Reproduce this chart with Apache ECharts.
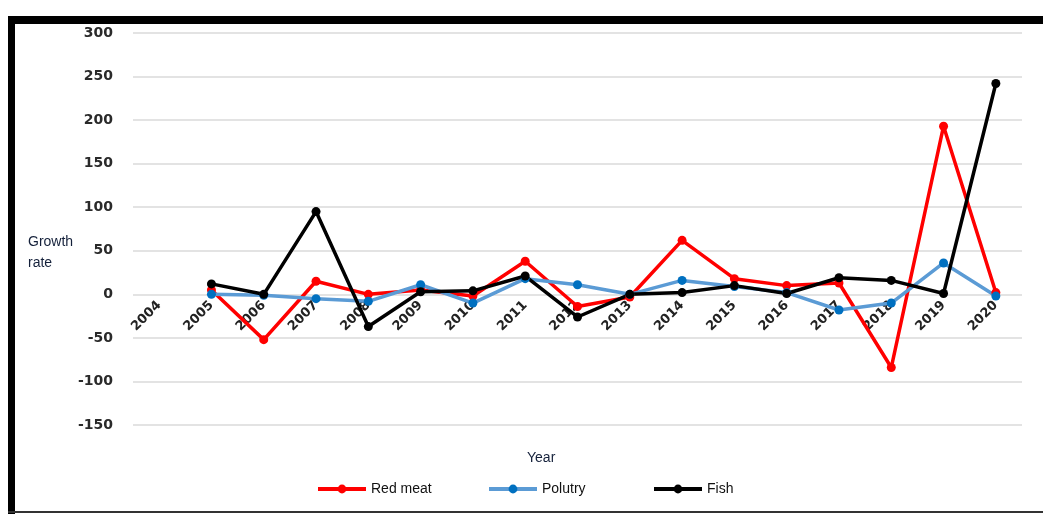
<!DOCTYPE html>
<html>
<head>
<meta charset="utf-8">
<script src="https://cdn.jsdelivr.net/npm/echarts@6/dist/echarts.min.js"></script>
<style>
  html, body { margin: 0; padding: 0; background: #fff; }
  #chart { width: 1043px; height: 514px; }
</style>
</head>
<body>
<div id="chart"></div>
<script>
// Years on the category axis
const years = ['2004','2005','2006','2007','2008','2009','2010','2011','2012',
               '2013','2014','2015','2016','2017','2018','2019','2020'];

// Growth rate (%) by product; 2004 is the base year, so it has no value
const redMeat = [null, 5, -52, 15, 0, 5, -2, 38, -14, -3, 62, 18, 10, 13, -84, 193, 2];
const poultry = [null, 0, -1, -5, -8, 11, -10, 18, 11, 0, 16, 9, 2, -18, -10, 36, -2];
const fish    = [null, 12, 0, 95, -37, 3, 4, 21, -26, 0, 2, 10, 1, 19, 16, 1, 242];

// Value axis ticks
const yMin = -150, yMax = 300, yStep = 50;

const chart = echarts.init(document.getElementById('chart'));

function lineSeries(name, data, lineColor, dotColor) {
  return {
    name: name,
    type: 'line',
    data: data,
    symbol: 'circle',
    symbolSize: 9,
    connectNulls: false,
    z: 5,
    lineStyle: { color: lineColor, width: 3.5 },
    itemStyle: { color: dotColor },
    emphasis: { disabled: true }
  };
}

const legendText = { fontFamily: 'Liberation Sans', fontSize: 14, color: '#111' };
function legendFor(name, left) {
  return {
    data: [name], left: left, top: 482, padding: 0,
    itemWidth: 48, itemHeight: 11, itemGap: 0,
    lineStyle: { width: 4 },
    textStyle: legendText, selectedMode: false
  };
}

// plot area
const gridTop = 33, gridBottom = 89, plotHeight = 514 - gridTop - gridBottom;
// distance from the bottom of the plot up to the zero line, where the year labels hang
const zeroOffset = plotHeight * (0 - yMin) / (yMax - yMin);

chart.setOption({
  animation: false,
  grid: { left: 133, right: 21, top: gridTop, bottom: gridBottom, containLabel: false },
  xAxis: {
    type: 'category',
    data: years,
    boundaryGap: true,
    offset: -zeroOffset,
    axisLine: { show: false, onZero: false },
    axisTick: { show: false },
    splitLine: { show: false },
    axisLabel: {
      rotate: 45, margin: 9, interval: 0,
      fontFamily: 'DejaVu Sans', fontWeight: 'bold', fontSize: 13, color: '#222'
    }
  },
  yAxis: {
    type: 'value',
    min: yMin, max: yMax, interval: yStep,
    axisLine: { show: false },
    axisTick: { show: false },
    splitLine: { lineStyle: { color: '#e3e3e3', width: 2 } },
    axisLabel: {
      margin: 20,
      fontFamily: 'DejaVu Sans', fontWeight: 'bold', fontSize: 14, color: '#2a2a2a'
    }
  },
  legend: [
    legendFor('Red meat', 316),
    legendFor('Polutry', 487),
    legendFor('Fish', 652)
  ],
  series: [
    lineSeries('Red meat', redMeat, '#ff0000', '#ff0000'),
    lineSeries('Polutry', poultry, '#5b9bd5', '#0070c0'),
    lineSeries('Fish', fish, '#000000', '#000000')
  ],
  graphic: [
    // frame round the figure
    { type: 'rect', shape: { x: 8, y: 16, width: 1043, height: 8 }, style: { fill: '#000' } },
    { type: 'rect', shape: { x: 8, y: 16, width: 7, height: 498 }, style: { fill: '#000' } },
    { type: 'rect', shape: { x: 8, y: 511, width: 1043, height: 2 }, style: { fill: '#333' } },
    // axis titles
    {
      type: 'text', left: 28, top: 232,
      style: { text: 'Growth\nrate', fontFamily: 'Liberation Sans', fontSize: 14,
               lineHeight: 21, fill: '#14203a' }
    },
    {
      type: 'text', left: 527, top: 451,
      style: { text: 'Year', fontFamily: 'Liberation Sans', fontSize: 14, fill: '#14203a' }
    }
  ]
});
</script>
</body>
</html>
